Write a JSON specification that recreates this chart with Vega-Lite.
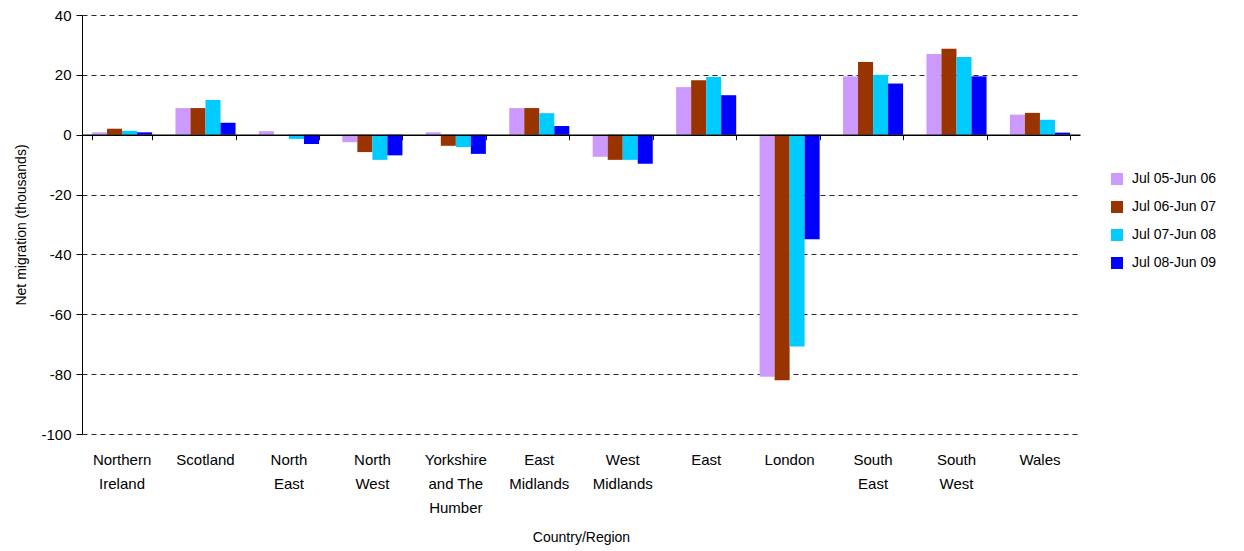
{
  "$schema": "https://vega.github.io/schema/vega-lite/v6.json",
  "width": 998,
  "height": 419,
  "autosize": {"type": "none"},
  "padding": {"left": 82, "top": 15, "right": 164, "bottom": 117},
  "background": "white",
  "config": {
    "font": "Liberation Sans",
    "view": {"stroke": null},
    "axis": {"labelColor": "#000", "titleColor": "#000", "titleFontWeight": "normal", "labelFont": "Liberation Sans", "titleFont": "Liberation Sans"}
  },
  "data": {
    "values": [
      {"region": "Northern Ireland", "period": "Jul 05-Jun 06", "value": 0.8},
      {"region": "Northern Ireland", "period": "Jul 06-Jun 07", "value": 2.0},
      {"region": "Northern Ireland", "period": "Jul 07-Jun 08", "value": 1.3},
      {"region": "Northern Ireland", "period": "Jul 08-Jun 09", "value": 0.8},
      {"region": "Scotland", "period": "Jul 05-Jun 06", "value": 8.9},
      {"region": "Scotland", "period": "Jul 06-Jun 07", "value": 8.9},
      {"region": "Scotland", "period": "Jul 07-Jun 08", "value": 11.6},
      {"region": "Scotland", "period": "Jul 08-Jun 09", "value": 4.0},
      {"region": "North East", "period": "Jul 05-Jun 06", "value": 1.2},
      {"region": "North East", "period": "Jul 06-Jun 07", "value": 0.0},
      {"region": "North East", "period": "Jul 07-Jun 08", "value": -1.4},
      {"region": "North East", "period": "Jul 08-Jun 09", "value": -3.1},
      {"region": "North West", "period": "Jul 05-Jun 06", "value": -2.5},
      {"region": "North West", "period": "Jul 06-Jun 07", "value": -5.8},
      {"region": "North West", "period": "Jul 07-Jun 08", "value": -8.4},
      {"region": "North West", "period": "Jul 08-Jun 09", "value": -6.9},
      {"region": "Yorkshire and The Humber", "period": "Jul 05-Jun 06", "value": 0.8},
      {"region": "Yorkshire and The Humber", "period": "Jul 06-Jun 07", "value": -3.7},
      {"region": "Yorkshire and The Humber", "period": "Jul 07-Jun 08", "value": -4.1},
      {"region": "Yorkshire and The Humber", "period": "Jul 08-Jun 09", "value": -6.4},
      {"region": "East Midlands", "period": "Jul 05-Jun 06", "value": 8.9},
      {"region": "East Midlands", "period": "Jul 06-Jun 07", "value": 8.9},
      {"region": "East Midlands", "period": "Jul 07-Jun 08", "value": 7.2},
      {"region": "East Midlands", "period": "Jul 08-Jun 09", "value": 2.9},
      {"region": "West Midlands", "period": "Jul 05-Jun 06", "value": -7.4},
      {"region": "West Midlands", "period": "Jul 06-Jun 07", "value": -8.4},
      {"region": "West Midlands", "period": "Jul 07-Jun 08", "value": -8.4},
      {"region": "West Midlands", "period": "Jul 08-Jun 09", "value": -9.7},
      {"region": "East", "period": "Jul 05-Jun 06", "value": 15.9},
      {"region": "East", "period": "Jul 06-Jun 07", "value": 18.2},
      {"region": "East", "period": "Jul 07-Jun 08", "value": 19.3},
      {"region": "East", "period": "Jul 08-Jun 09", "value": 13.2},
      {"region": "London", "period": "Jul 05-Jun 06", "value": -80.9},
      {"region": "London", "period": "Jul 06-Jun 07", "value": -82.0},
      {"region": "London", "period": "Jul 07-Jun 08", "value": -70.8},
      {"region": "London", "period": "Jul 08-Jun 09", "value": -34.9},
      {"region": "South East", "period": "Jul 05-Jun 06", "value": 19.5},
      {"region": "South East", "period": "Jul 06-Jun 07", "value": 24.3},
      {"region": "South East", "period": "Jul 07-Jun 08", "value": 20.0},
      {"region": "South East", "period": "Jul 08-Jun 09", "value": 17.1},
      {"region": "South West", "period": "Jul 05-Jun 06", "value": 27.0},
      {"region": "South West", "period": "Jul 06-Jun 07", "value": 28.7},
      {"region": "South West", "period": "Jul 07-Jun 08", "value": 26.0},
      {"region": "South West", "period": "Jul 08-Jun 09", "value": 19.5},
      {"region": "Wales", "period": "Jul 05-Jun 06", "value": 6.7},
      {"region": "Wales", "period": "Jul 06-Jun 07", "value": 7.3},
      {"region": "Wales", "period": "Jul 07-Jun 08", "value": 5.0},
      {"region": "Wales", "period": "Jul 08-Jun 09", "value": 0.7}
    ]
  },
  "resolve": {"scale": {"x": "independent"}, "axis": {"x": "independent"}},
  "layer": [
    {
      "mark": {"type": "bar", "opacity": 0},
      "encoding": {
        "x": {
          "field": "region", "type": "nominal",
          "sort": ["Northern Ireland", "Scotland", "North East", "North West", "Yorkshire and The Humber", "East Midlands", "West Midlands", "East", "London", "South East", "South West", "Wales"],
          "scale": {"paddingInner": 0.28, "paddingOuter": 0.12},
          "axis": {
            "orient": "bottom", "domain": false, "ticks": false, "grid": false,
            "labelAngle": 0, "labelFontSize": 15, "labelLineHeight": 24,
            "labelBaseline": "top", "labelPadding": 18,
            "labelExpr": "datum.value == 'Yorkshire and The Humber' ? ['Yorkshire', 'and The', 'Humber'] : split(datum.value, ' ')",
            "title": "Country/Region", "titleFontSize": 14, "titlePadding": 15
          }
        },
        "y": {
          "field": "value", "type": "quantitative",
          "scale": {"domain": [-100, 40], "nice": false, "zero": false},
          "axis": {
            "values": [-100, -80, -60, -40, -20, 0, 20, 40],
            "labelExpr": "toString(datum.value)",
            "grid": true, "gridColor": "#000", "gridDash": [5, 4], "gridWidth": 1, "gridOpacity": 0.85,
            "domain": true, "domainColor": "#000", "ticks": true, "tickColor": "#000", "tickSize": 6,
            "labelFontSize": 15, "labelPadding": 5,
            "title": "Net migration (thousands)", "titleFontSize": 14, "titlePadding": 12
          }
        }
      }
    },
    {
      "mark": {"type": "bar"},
      "encoding": {
        "x": {
          "field": "region", "type": "nominal",
          "sort": ["Northern Ireland", "Scotland", "North East", "North West", "Yorkshire and The Humber", "East Midlands", "West Midlands", "East", "London", "South East", "South West", "Wales"],
          "scale": {"paddingInner": 0.28, "paddingOuter": 0.12},
          "axis": {
            "orient": "bottom", "offset": -299.3, "labels": false, "title": null,
            "domain": true, "domainColor": "#000", "domainWidth": 1.5,
            "ticks": true, "tickColor": "#000", "tickSize": 5, "tickBand": "extent",
            "grid": false, "zindex": 2
          }
        },
        "xOffset": {
          "field": "period", "type": "nominal",
          "sort": ["Jul 05-Jun 06", "Jul 06-Jun 07", "Jul 07-Jun 08", "Jul 08-Jun 09"],
          "scale": {"paddingInner": 0, "paddingOuter": 0}
        },
        "y": {"field": "value", "type": "quantitative"},
        "color": {
          "field": "period", "type": "nominal",
          "sort": ["Jul 05-Jun 06", "Jul 06-Jun 07", "Jul 07-Jun 08", "Jul 08-Jun 09"],
          "scale": {
            "domain": ["Jul 05-Jun 06", "Jul 06-Jun 07", "Jul 07-Jun 08", "Jul 08-Jun 09"],
            "range": ["#CC99FF", "#993300", "#00CCFF", "#0000FF"]
          },
          "legend": {
            "orient": "none", "legendX": 1028, "legendY": 157, "title": null,
            "symbolType": "square", "symbolSize": 144, "symbolStrokeWidth": 0,
            "labelFontSize": 14, "labelOffset": 8, "rowPadding": 14, "labelColor": "#000"
          }
        }
      }
    }
  ]
}
